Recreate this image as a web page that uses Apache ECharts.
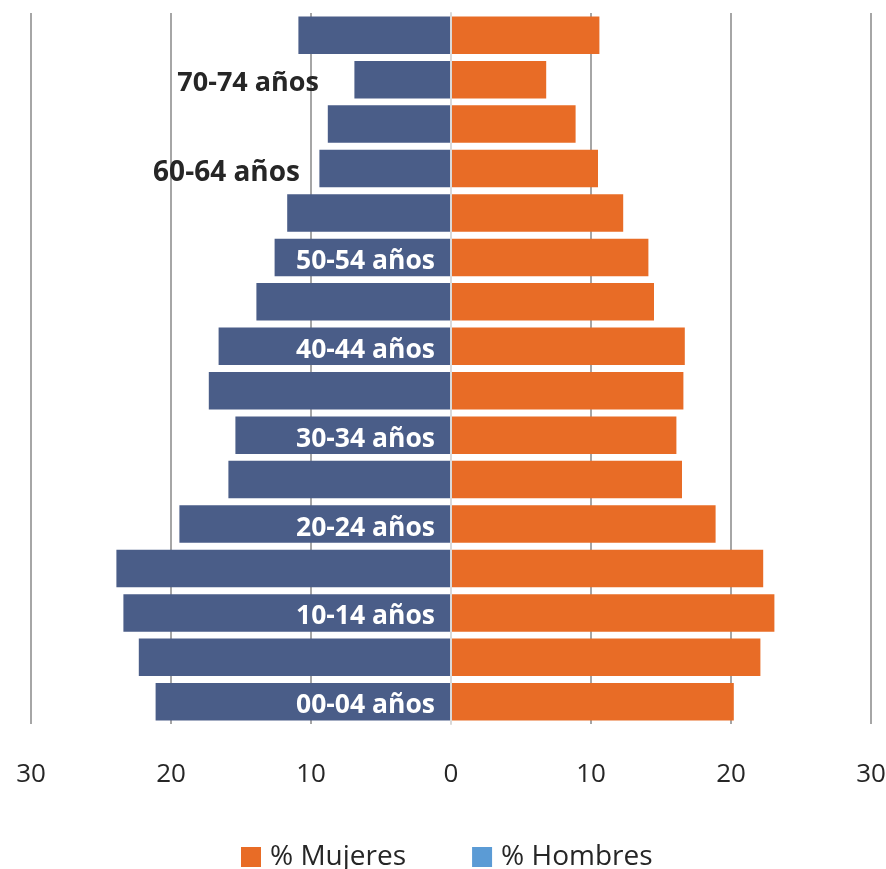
<!DOCTYPE html>
<html>
<head>
<meta charset="utf-8">
<script src="https://cdn.jsdelivr.net/npm/echarts@6/dist/echarts.min.js"></script>
<style>
  html, body { margin: 0; padding: 0; background: #fff; }
  #chart { width: 886px; height: 869px; }
</style>
</head>
<body>
<div id="chart"></div>
<script>
// grupos de edad, de abajo hacia arriba
const ageGroups = ['00-04 años', '05-09 años', '10-14 años', '15-19 años', '20-24 años', '25-29 años',
  '30-34 años', '35-39 años', '40-44 años', '45-49 años', '50-54 años', '55-59 años',
  '60-64 años', '65-69 años', '70-74 años', '75 y más años']
const hombres = [21.1, 22.3, 23.4, 23.9, 19.4, 15.9, 15.4, 17.3, 16.6, 13.9, 12.6, 11.7, 9.4, 8.8, 6.9, 10.9]
const mujeres = [20.2, 22.1, 23.1, 22.3, 18.9, 16.5, 16.1, 16.6, 16.7, 14.5, 14.1, 12.3, 10.5, 8.9, 6.8, 10.6]
const xTicks = [-30, 30, 10]

const myChart = echarts.init(document.getElementById('chart'))

const option = {
  animation: false,
  textStyle: { fontFamily: 'Open Sans' },
  grid: { left: 31, right: 15, top: 13, bottom: 145, outerBoundsMode: 'none', containLabel: false },
  legend: {
    top: 838,
    left: 236,
    icon: 'rect',
    itemWidth: 20,
    itemHeight: 20,
    itemGap: 66,
    textStyle: { fontSize: 28, color: '#262626', padding: [0, 0, 0, 4] },
    data: [
      { name: '% Mujeres' },
      { name: '% Hombres', itemStyle: { color: '#5b9bd5' } }
    ]
  },
  xAxis: {
    type: 'value',
    min: xTicks[0],
    max: xTicks[1],
    interval: xTicks[2],
    axisLine: { show: false },
    axisTick: { show: false },
    splitLine: { lineStyle: { color: '#a6a6a6', width: 2 } },
    axisLabel: {
      margin: 38,
      fontSize: 26,
      color: '#262626',
      formatter: v => Math.abs(v)
    }
  },
  yAxis: {
    type: 'category',
    data: ageGroups,
    z: 10,
    position: 'left',
    // eje en el cero: 30 unidades * 14 px desde el borde izquierdo
    offset: -420,
    axisTick: { show: false },
    axisLine: { onZero: false, lineStyle: { color: '#d9d9d9', width: 2 } },
    axisLabel: {
      interval: 1,
      margin: 16,
      padding: [8, 0, 0, 0],
      fontSize: 26.5,
      fontWeight: 'bold',
      color: '#ffffff',
      // las etiquetas que no caben en la barra van fuera, en oscuro
      formatter: (value) => {
        if (value === '70-74 años') return '{a|' + value + '}'
        if (value === '60-64 años') return '{b|' + value + '}'
        return value
      },
      rich: {
        a: { color: '#262626', fontSize: 27, fontWeight: 'bold', padding: [0, 116, 0, 0] },
        b: { color: '#262626', fontSize: 28, fontWeight: 'bold', padding: [0, 135, 0, 0] }
      }
    }
  },
  series: [
    {
      name: '% Hombres',
      type: 'bar',
      data: hombres.map(v => -v),
      barGap: '-100%',
      barCategoryGap: '15.5%',
      itemStyle: { color: '#4a5d88' }
    },
    {
      name: '% Mujeres',
      type: 'bar',
      data: mujeres,
      barGap: '-100%',
      barCategoryGap: '15.5%',
      itemStyle: { color: '#e86c26' }
    }
  ]
}
option && myChart.setOption(option)
</script>
</body>
</html>
